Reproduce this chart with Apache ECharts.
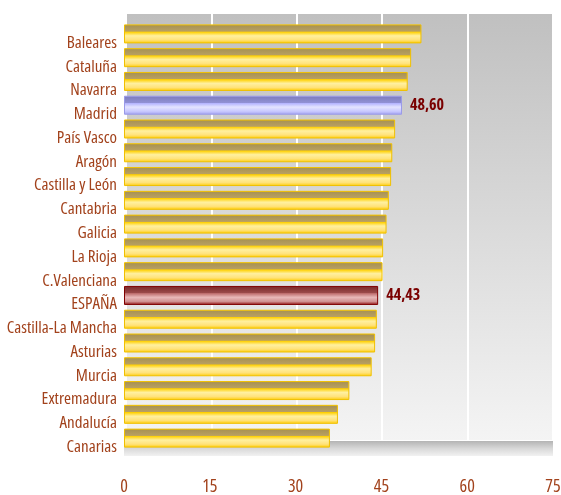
<!DOCTYPE html>
<html><head><meta charset="utf-8">
<script src="https://cdn.jsdelivr.net/npm/echarts@6/dist/echarts.min.js"></script>
<style>html,body{margin:0;padding:0;background:#fff}#c{width:561px;height:495px}</style>
</head><body><div id="c"></div>
<script>
const categories = ["Baleares","Cataluña","Navarra","Madrid","País Vasco","Aragón","Castilla y León","Cantabria","Galicia","La Rioja","C.Valenciana","ESPAÑA","Castilla-La Mancha","Asturias","Murcia","Extremadura","Andalucía","Canarias"];
const values = [52.0,50.2,49.6,48.60,47.4,46.9,46.7,46.3,45.9,45.3,45.2,44.43,44.2,43.9,43.3,39.4,37.4,36.0];
const labelled = {"Madrid":"48,60","ESPAÑA":"44,43"};
const xTicks = [0,15,30,45,60,75];

const FONT = '"Open Sans","DejaVu Sans","Liberation Sans",sans-serif';
const BROWN = '#a2421c';
function grad(stops){return {type:'linear',x:0,y:0,x2:0,y2:1,colorStops:stops.map(s=>({offset:s[0],color:s[1]}))};}
const yellow = grad([[0,'#ffd000'],[0.06,'#a89254'],[0.36,'#b8a062'],[0.4,'#ffd000'],[0.6,'#fff0a0'],[0.82,'#ffe27a'],[1,'#ffcc00']]);
const blue = grad([[0,'#9a9ae8'],[0.06,'#7f7fc0'],[0.36,'#9090d4'],[0.4,'#b4b4ff'],[0.6,'#e4e4ff'],[0.82,'#c8c8ff'],[1,'#a0a0f0']]);
const red = grad([[0,'#800000'],[0.06,'#7e2c2c'],[0.36,'#9a4a4a'],[0.4,'#c07070'],[0.6,'#e8b8b8'],[0.82,'#d09090'],[1,'#900a0a']]);

const data = categories.map((c,i)=>{
  const item = {value: values[i]};
  if (c==='Madrid') item.itemStyle = {color: blue, borderColor:'#9a9ae8'};
  if (c==='ESPAÑA') item.itemStyle = {color: red, borderColor:'#800000'};
  if (labelled[c]) item.label = {show:true, position:'right', distance:8, formatter: labelled[c],
    color:'#7a0000', fontWeight:'bold', fontStyle:'condensed', fontSize:16, fontFamily:FONT};
  return item;
});

const chart = echarts.init(document.getElementById('c'));
chart.setOption({
  animation:false,
  graphic:[{type:'rect', shape:{x:124,y:441,width:429,height:15}, z:-1,
    style:{fill:grad([[0,'#b4b4b4'],[0.5,'#d8d8d8'],[1,'#f2f2f2']])}}],
  grid:[
    {left:126,right:8,top:14,bottom:55,show:true,borderWidth:0,outerBoundsMode:'none',
     backgroundColor:grad([[0,'#c0c0c0'],[1,'#f4f4f4']])},
    {left:124,right:8,top:22,bottom:45,outerBoundsMode:'none'}
  ],
  xAxis:[
    {gridIndex:0,type:'value',min:0,max:75,interval:15,
     axisLine:{show:false},axisTick:{show:false},axisLabel:{show:false},
     splitLine:{show:true,lineStyle:{color:'#ffffff',width:2}}},
    {gridIndex:1,type:'value',min:0,max:75,interval:15,
     axisLine:{show:false},axisTick:{show:false},splitLine:{show:false},
     axisLabel:{color:BROWN,fontSize:18,fontStyle:'condensed',fontFamily:FONT,margin:28,
       formatter:v=>xTicks.includes(v)?String(v):''}}
  ],
  yAxis:[
    {gridIndex:0,type:'category',data:categories,inverse:true,show:false},
    {gridIndex:1,type:'category',data:categories,inverse:true,
     axisLine:{show:false},axisTick:{show:false},
     axisLabel:{color:BROWN,fontSize:17,fontStyle:'condensed',fontFamily:FONT,margin:7,verticalAlign:'top',lineHeight:18}}
  ],
  series:[{type:'bar',xAxisIndex:1,yAxisIndex:1,data:data,barWidth:19,
    itemStyle:{color:yellow,borderColor:'#f0c000',borderWidth:1}}]
});
</script></body></html>
